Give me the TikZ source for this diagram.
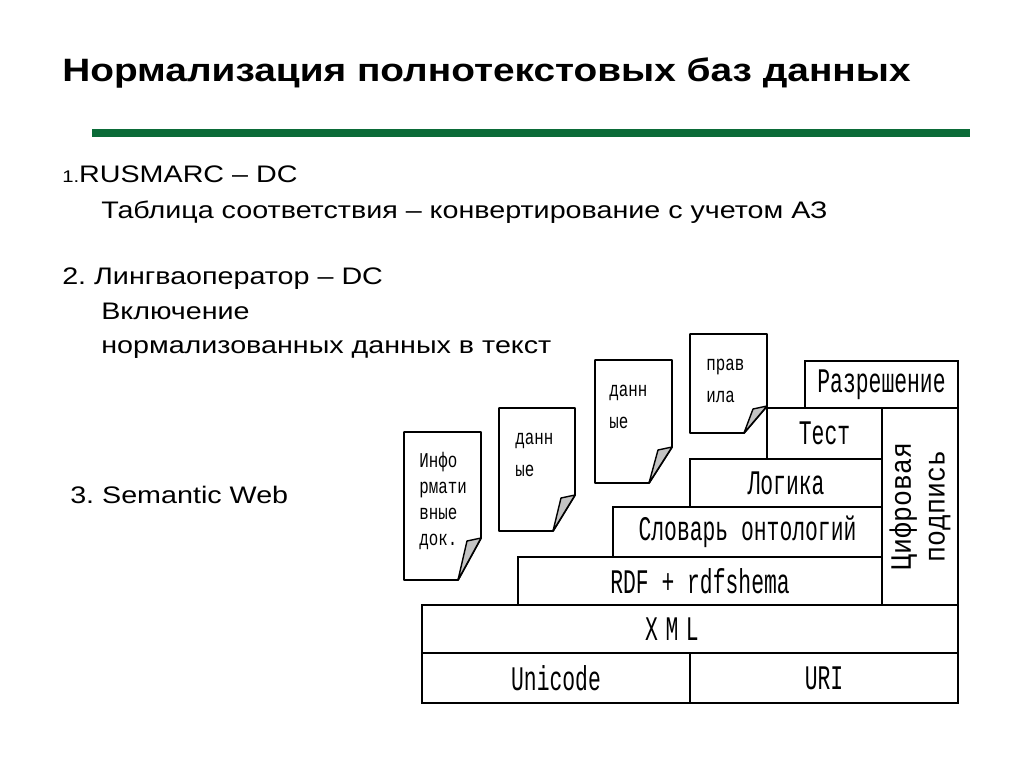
\documentclass[tikz,border=0pt]{standalone}
\usepackage{fontspec}
\setmainfont{Liberation Sans}[FakeStretch=1.2]
\newfontfamily\layerfont[FakeStretch=0.62]{Liberation Mono}
\newfontfamily\signfont[FakeStretch=0.9]{Liberation Mono}
\newfontfamily\docfont[FakeStretch=0.75]{Liberation Mono}
\usetikzlibrary{positioning}
\definecolor{greenT}{HTML}{0B6B38}
\definecolor{foldG}{HTML}{C4C4C4}
\frenchspacing

% sheet with a curled corner: left, top, right, bottom, end of right edge, end of bottom edge
\newcommand{\docsheet}[6]{%
  \filldraw[sheet] (#1,#2) -- (#3,#2) -- (#3,#5) -- (#6,#4) -- (#1,#4) -- cycle;
  \filldraw[curl] (#3,#5) -- ++(-14,3) -- (#6,#4) -- cycle;
}

\begin{document}
\begin{tikzpicture}[
  x=0.025cm, y=-0.025cm,
  title/.style={anchor=base west, inner sep=0pt,
    font=\bfseries\fontsize{23}{27}\selectfont},
  rule/.style={line width=5.7pt, greenT},
  item/.style={anchor=base west, inner sep=0pt,
    font=\fontsize{17}{20}\selectfont},
  layer/.style={draw, line width=1.4pt, inner sep=0pt, outer sep=0pt,
    font=\layerfont\fontsize{24.5}{28}\selectfont},
  sheet/.style={draw, fill=white, line width=1.4pt, line join=round},
  curl/.style={draw, fill=foldG, line width=1pt, line join=round},
  doctext/.style={anchor=west, inner sep=0pt, align=left,
    font=\docfont\fontsize{15}{#1}\selectfont},
]
\useasboundingbox[fill=white] (0,0) rectangle (1024,768);

%% ═══ ЗАГОЛОВОК ═══
\node[title] (title) at (62,82) {Нормализация полнотекстовых баз данных};
\draw[rule] (92,133) -- (970,133);

%% ═══ ТЕКСТ ═══
\node[item] (p1) at (62,183) {{\fontsize{12}{14}\selectfont 1.}RUSMARC – DC};
\node[item] (p1a) at (101,218) {Таблица соответствия – конвертирование с учетом АЗ};
\node[item] (p2) at (62,284) {2. Лингваоператор – DC};
\node[item] (p2a) at (101,319) {Включение};
\node[item] (p2b) at (101,353) {нормализованных данных в текст};
\node[item] (p3) at (70,503) {3. Semantic Web};

%% ═══ ДОКУМЕНТЫ ═══
\docsheet{404}{432}{481}{580}{538}{458}
\node[doctext=18.5] (d1) at (419,501) {Инфо\\рмати\\вные\\док.};

\docsheet{499}{408}{575}{531}{495}{553}
\node[doctext=22.8] (d2) at (515,455) {данн\\ые};

\docsheet{595}{360}{672}{483}{447}{649}
\node[doctext=22.8] (d3) at (609,407) {данн\\ые};

\docsheet{690}{334}{767}{433}{406}{744}
\node[doctext=22.8] (d4) at (706,381) {прав\\ила};

%% ═══ СЛОИ ═══
\node[layer, minimum width=6.7cm, minimum height=1.25cm] (unicode) at (556,678) {Unicode};
\node[layer, minimum width=6.7cm, minimum height=1.25cm] (uri) at (824,678) {URI};
\node[layer, minimum width=13.4cm, minimum height=1.2cm] (xml) at (690,629) {};
\node[inner sep=0pt, font=\layerfont\addfontfeature{LetterSpace=22}\fontsize{24.5}{28}\selectfont]
  (xmltext) at ([xshift=-0.45cm]xml.center) {XML};
\node[layer, minimum width=9.1cm, minimum height=1.2cm] (rdf) at (700,581) {RDF + rdfshema};
\node[layer, minimum width=6.725cm, minimum height=1.25cm] (onto) at (747.5,532) {Словарь онтологий};
\node[layer, minimum width=4.8cm, minimum height=1.2cm] (logic) at (786,483) {Логика};
\node[layer, minimum width=2.875cm, minimum height=1.275cm] (proof) at (824.5,433.5) {Тест};
\node[layer, minimum width=3.825cm, minimum height=1.175cm] (trust) at (881.5,384.5) {Разрешение};
\node[layer, minimum width=1.9cm, minimum height=4.925cm] (sign) at (920,506.5) {};
\node[rotate=90, align=center, inner sep=0pt,
  font=\signfont\fontsize{21}{24}\selectfont] (signtext) at (sign.center) {Цифровая\\подпись};

\end{tikzpicture}
\end{document}
